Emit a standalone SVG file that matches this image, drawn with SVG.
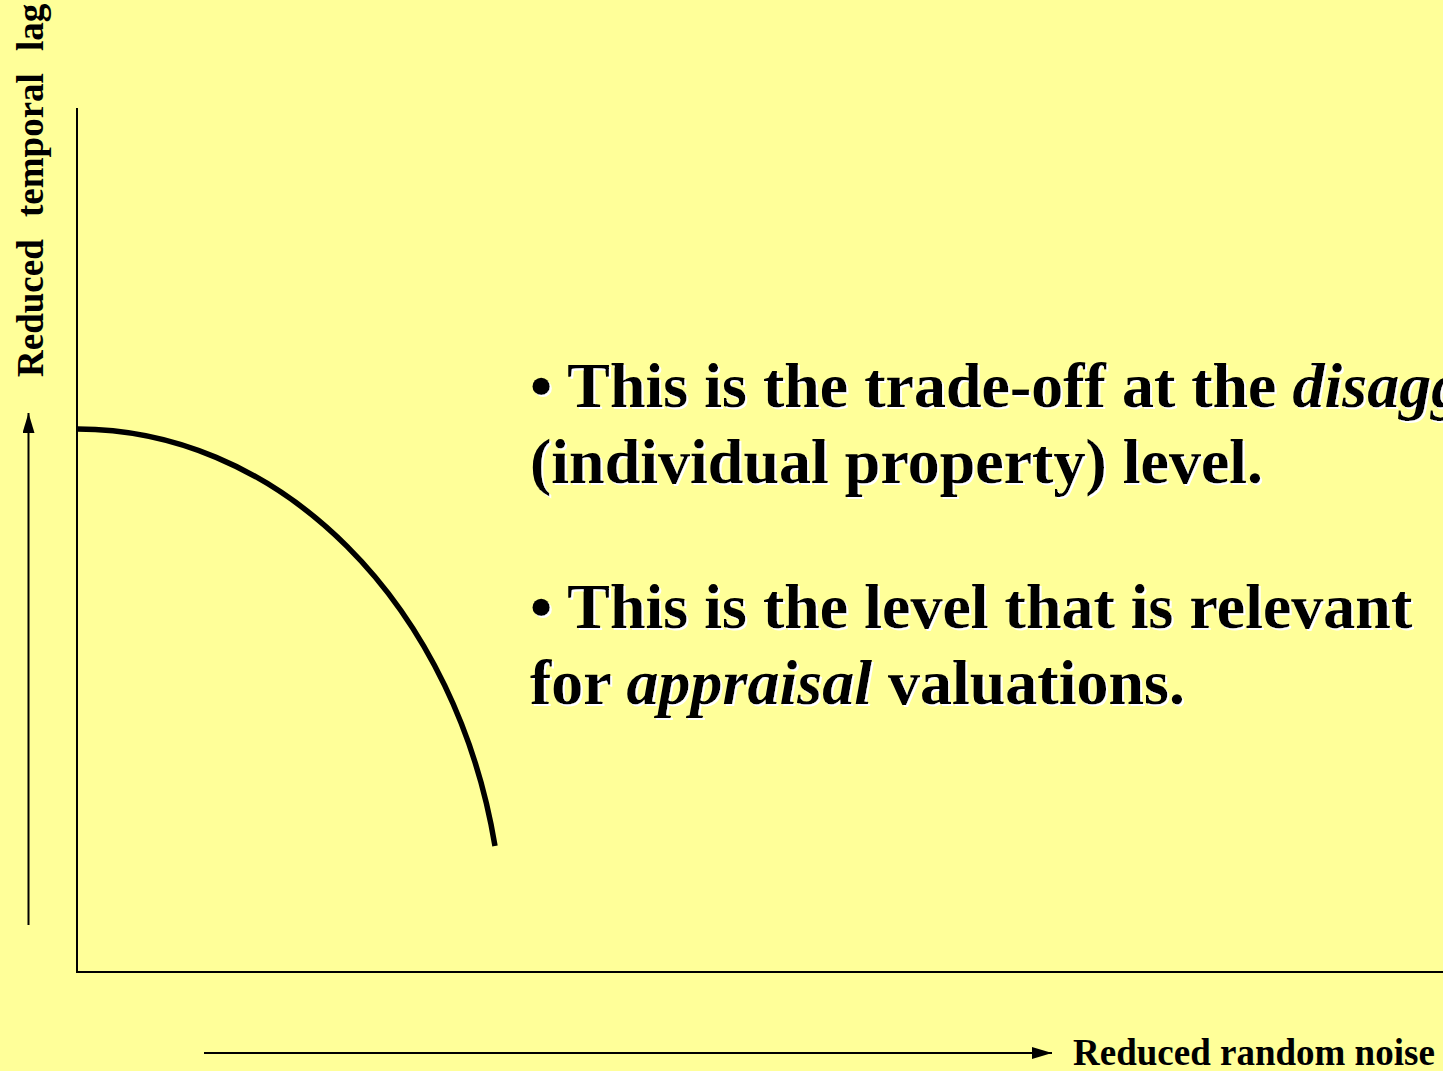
<svg xmlns="http://www.w3.org/2000/svg" width="1443" height="1071" viewBox="0 0 1443 1071">
  <style>
    .axis { stroke: #000; stroke-width: 2; fill: none; }
    .curve { stroke: #000; stroke-width: 5.5; fill: none; }
    .lbl { font-family: "Liberation Serif", "Times New Roman", serif; font-weight: bold; font-size: 37px; fill: #000; }
    .body { font-family: "Liberation Serif", "Times New Roman", serif; font-weight: bold; font-size: 64px; fill: #000; }
    .it { font-style: italic; }
  </style>
  <defs>
    <marker id="arrow" viewBox="0 0 20 12" refX="20" refY="6" markerWidth="20" markerHeight="12" markerUnits="userSpaceOnUse" orient="auto">
      <path d="M0,0 L20,6 L0,12 Z" fill="#000"/>
    </marker>
    <filter id="shadow" x="-5%" y="-20%" width="110%" height="140%">
      <feOffset in="SourceAlpha" dx="2" dy="2" result="off"/>
      <feFlood flood-color="#ffffff" result="white"/>
      <feComposite in="white" in2="off" operator="in" result="sh"/>
      <feMerge>
        <feMergeNode in="sh"/>
        <feMergeNode in="SourceGraphic"/>
      </feMerge>
    </filter>
  </defs>
  <rect x="0" y="0" width="1443" height="1071" fill="#FFFF99"/>

  <g id="axes">
    <path class="axis" d="M77,108 L77,972 L1443,972"/>
  </g>

  <g id="connectors">
    <line class="axis" x1="28.5" y1="925" x2="28.5" y2="413" marker-end="url(#arrow)"/>
    <line class="axis" x1="204" y1="1053" x2="1052" y2="1053" marker-end="url(#arrow)"/>
  </g>

  <g id="tradeoff-curve">
    <path class="curve" d="M77,429 A426,520 0 0 1 495,846"/>
  </g>

  <g id="y-label">
    <text class="lbl" transform="translate(43,377) rotate(-90)"><tspan x="0" y="0">Reduced</tspan><tspan x="160" y="0">temporal</tspan><tspan x="326" y="0">lag</tspan></text>
  </g>

  <g id="x-label">
    <text class="lbl" x="1073" y="1065">Reduced random noise</text>
  </g>

  <g id="bullets" filter="url(#shadow)">
    <text class="body" x="530" y="407">• This is the trade-off at the <tspan class="it">disagg</tspan></text>
    <text class="body" x="530" y="483">(individual property) level.</text>
    <text class="body" x="530" y="628">• This is the level that is relevant</text>
    <text class="body" x="530" y="704">for <tspan class="it">appraisal</tspan> valuations.</text>
  </g>
</svg>
